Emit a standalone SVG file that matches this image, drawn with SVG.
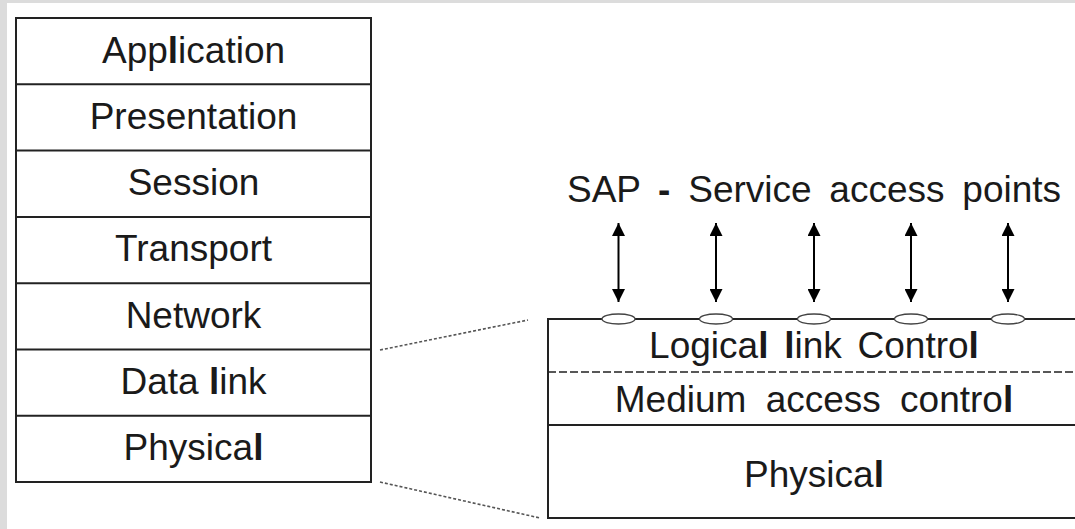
<svg xmlns="http://www.w3.org/2000/svg" width="1075" height="529" viewBox="0 0 1075 529">
<defs>
<style>
.t{font-family:"Liberation Sans",Arial,sans-serif;font-size:37px;fill:#1a1a1a;text-anchor:middle}
.s{word-spacing:7.5px}
.b{font-weight:bold}
.box{fill:#fff;stroke:#222;stroke-width:2}
.sep{stroke:#222;stroke-width:2}
.dash{stroke:#555;stroke-width:1.6;stroke-dasharray:3 2;fill:none}
.arr{stroke:#000;stroke-width:2;marker-start:url(#ah);marker-end:url(#ah)}
.sap{fill:#fff;stroke:#444;stroke-width:1.3}
</style>
<marker id="ah" viewBox="0 0 10 10" refX="10" refY="5" markerWidth="13" markerHeight="13" markerUnits="userSpaceOnUse" orient="auto-start-reverse">
<path d="M0,0 L10,5 L0,10 z" fill="#000"/>
</marker>
</defs>
<rect x="0" y="0" width="1075" height="529" fill="#fff"/>
<rect x="0" y="0" width="7" height="529" fill="#dcdcdc"/>
<rect x="0" y="0" width="1075" height="3" fill="#dcdcdc"/>

<g id="osi-stack">
<rect class="box" x="16" y="18" width="355" height="464"/>
<line class="sep" x1="16" y1="84.3" x2="371" y2="84.3"/>
<line class="sep" x1="16" y1="150.6" x2="371" y2="150.6"/>
<line class="sep" x1="16" y1="216.9" x2="371" y2="216.9"/>
<line class="sep" x1="16" y1="283.2" x2="371" y2="283.2"/>
<line class="sep" x1="16" y1="349.5" x2="371" y2="349.5"/>
<line class="sep" x1="16" y1="415.8" x2="371" y2="415.8"/>
</g>
<g id="layer-application"><text class="t" x="193.5" y="62.5">App<tspan class="b">l</tspan>ication</text></g>
<g id="layer-presentation"><text class="t" x="193.5" y="128.8">Presentation</text></g>
<g id="layer-session"><text class="t" x="193.5" y="195.1">Session</text></g>
<g id="layer-transport"><text class="t" x="193.5" y="261.4">Transport</text></g>
<g id="layer-network"><text class="t" x="193.5" y="327.7">Network</text></g>
<g id="layer-datalink"><text class="t" x="193.5" y="394">Data <tspan class="b">l</tspan>ink</text></g>
<g id="layer-physical"><text class="t" x="193.5" y="460.3">Physica<tspan class="b">l</tspan></text></g>

<g id="ieee-stack">
<rect class="box" x="548" y="319" width="540" height="199"/>
<line x1="548" y1="372" x2="1075" y2="372" stroke="#222" stroke-width="1.6" stroke-dasharray="8 3"/>
<line class="sep" x1="548" y1="425" x2="1075" y2="425"/>
</g>
<g id="llc"><text class="t" x="814" y="358.3" style="word-spacing:5.5px">Logica<tspan class="b">l</tspan> <tspan class="b">l</tspan>ink Contro<tspan class="b">l</tspan></text></g>
<g id="mac"><text class="t" x="814" y="411.7" style="word-spacing:9px">Medium access contro<tspan class="b">l</tspan></text></g>
<g id="phy"><text class="t" x="814" y="487">Physica<tspan class="b">l</tspan></text></g>

<g id="sap-label"><text class="t s" x="814" y="202">SAP <tspan class="b">-</tspan> Service access points</text></g>

<g id="connectors">
<line class="dash" x1="380" y1="350" x2="528" y2="320"/>
<line class="dash" x1="380" y1="482" x2="540" y2="518"/>
<line class="arr" x1="618.5" y1="223" x2="618.5" y2="302"/>
<line class="arr" x1="716" y1="223" x2="716" y2="302"/>
<line class="arr" x1="814" y1="223" x2="814" y2="302"/>
<line class="arr" x1="911" y1="223" x2="911" y2="302"/>
<line class="arr" x1="1008" y1="223" x2="1008" y2="302"/>
</g>
<g id="sap-points">
<ellipse class="sap" cx="618.5" cy="319" rx="16.5" ry="5"/>
<ellipse class="sap" cx="716" cy="319" rx="16.5" ry="5"/>
<ellipse class="sap" cx="814" cy="319" rx="16.5" ry="5"/>
<ellipse class="sap" cx="911" cy="319" rx="16.5" ry="5"/>
<ellipse class="sap" cx="1008" cy="319" rx="16.5" ry="5"/>
</g>
</svg>
